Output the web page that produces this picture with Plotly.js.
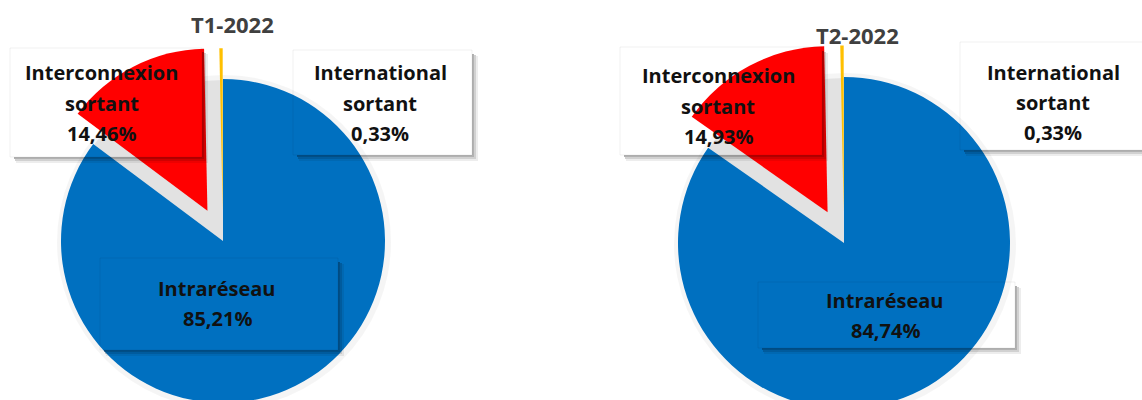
<!DOCTYPE html>
<html>
<head>
<meta charset="utf-8">
<script src="https://cdn.plot.ly/plotly-3.0.1.min.js"></script>
<style>
  html, body { margin: 0; padding: 0; overflow: hidden; background: #fff; }
  #chart { width: 1142px; height: 460px; }
</style>
</head>
<body>
<div id="chart"></div>
<script>
// ---- data ----
const categories = ['Intraréseau', 'Interconnexion sortant', 'International sortant'];
const labelLines = [['Intraréseau'], ['Interconnexion', 'sortant'], ['International', 'sortant']];
const periods = ['T1-2022', 'T2-2022'];
const t1Values = [85.21, 14.46, 0.33];
const t2Values = [84.74, 14.93, 0.33];
const seriesValues = [t1Values, t2Values];
const sliceColors = ['#0070C0', '#FF0000', '#FFC000'];
const pulls = [0, 0.21, 0.19];

// ---- layout constants (pixels) ----
const W = 1142, H = 460;
const pieGeom = [{cx: 223, cy: 241, r: 162}, {cx: 844, cy: 243, r: 166}];
const titlePos = [{x: 232, y: 24}, {x: 857, y: 35}];
// label centre x and first-line y per pie, per category
const labelPos = [
  [{x: 217, y: 288}, {x: 102, y: 73}, {x: 380, y: 73}],
  [{x: 885, y: 300}, {x: 718, y: 76}, {x: 1053, y: 72}]
];
const boxes = [
  [{x0: 100, y0: 258, x1: 338, y1: 350}, {x0: 10, y0: 48, x1: 202, y1: 157}, {x0: 293, y0: 50, x1: 472, y1: 155}],
  [{x0: 758, y0: 282, x1: 1015, y1: 348}, {x0: 620, y0: 47, x1: 822, y1: 155}, {x0: 960, y0: 42, x1: 1160, y1: 150}]
];
const lineGap = 30;

const px = x => x / W;
const py = y => 1 - y / H;
const maxPull = Math.max(...pulls);

const traces = seriesValues.map((vals, i) => {
  const g = pieGeom[i];
  const half = g.r * (1 + maxPull);
  return {
    type: 'pie',
    values: vals,
    labels: categories,
    sort: false,
    direction: 'clockwise',
    rotation: 0,
    pull: pulls,
    marker: {colors: sliceColors, line: {width: 0}},
    textinfo: 'none',
    hoverinfo: 'label+percent',
    showlegend: false,
    domain: {
      x: [px(g.cx - half), px(g.cx + half)],
      y: [py(g.cy + half), py(g.cy - half)]
    }
  };
});

const shapes = [];
// light grey disk behind each pie (shadow seen through the gaps)
pieGeom.forEach(g => {
  shapes.push({type: 'circle', xref: 'paper', yref: 'paper', layer: 'below',
    x0: px(g.cx - g.r - 4), x1: px(g.cx + g.r + 6), y0: py(g.cy + g.r + 6), y1: py(g.cy - g.r - 4),
    fillcolor: 'rgba(0,0,0,0.04)', line: {width: 0}});
  shapes.push({type: 'circle', xref: 'paper', yref: 'paper', layer: 'below',
    x0: px(g.cx - g.r + 1), x1: px(g.cx + g.r - 1), y0: py(g.cy + g.r - 1), y1: py(g.cy - g.r + 1),
    fillcolor: '#e2e2e2', line: {width: 0}});
});
function rect(x0, y0, x1, y1, fill) {
  shapes.push({type: 'rect', xref: 'paper', yref: 'paper', layer: 'above',
    x0: px(x0), x1: px(x1), y0: py(y1), y1: py(y0), fillcolor: fill, line: {width: 0}});
}
boxes.forEach(row => row.forEach(b => {
  // faint outline
  shapes.push({type: 'rect', xref: 'paper', yref: 'paper', layer: 'above',
    x0: px(b.x0), x1: px(b.x1), y0: py(b.y1), y1: py(b.y0),
    fillcolor: 'rgba(0,0,0,0)', line: {width: 1, color: 'rgba(0,0,0,0.06)'}});
  // drop shadow (bottom and right)
  rect(b.x0 + 4, b.y1, b.x1 + 2, b.y1 + 2, 'rgba(0,0,0,0.30)');
  rect(b.x0 + 5, b.y1 + 2, b.x1 + 4, b.y1 + 4, 'rgba(0,0,0,0.18)');
  rect(b.x0 + 6, b.y1 + 4, b.x1 + 6, b.y1 + 6, 'rgba(0,0,0,0.07)');
  rect(b.x1, b.y0 + 4, b.x1 + 2, b.y1, 'rgba(0,0,0,0.30)');
  rect(b.x1 + 2, b.y0 + 5, b.x1 + 4, b.y1 + 2, 'rgba(0,0,0,0.18)');
  rect(b.x1 + 4, b.y0 + 6, b.x1 + 6, b.y1 + 4, 'rgba(0,0,0,0.07)');
}));

const fontFamily = '"Open Sans", "Noto Sans", sans-serif';
const annotations = [];
periods.forEach((p, i) => {
  annotations.push({xref: 'paper', yref: 'paper', x: px(titlePos[i].x), y: py(titlePos[i].y),
    text: p, showarrow: false, xanchor: 'center', yanchor: 'middle',
    font: {family: fontFamily, size: 22, color: '#404040', weight: 700}});
  seriesValues[i].forEach((v, k) => {
    const lines = labelLines[k].concat([v.toFixed(2).replace('.', ',') + '%']);
    lines.forEach((ln, j) => {
      annotations.push({xref: 'paper', yref: 'paper', x: px(labelPos[i][k].x), y: py(labelPos[i][k].y + j * lineGap),
        text: ln, showarrow: false, xanchor: 'center', yanchor: 'middle',
        font: {family: fontFamily, size: 20, color: '#111111', weight: 700}});
    });
  });
});

const layout = {
  width: W, height: H,
  margin: {l: 0, r: 0, t: 0, b: 0},
  paper_bgcolor: '#ffffff',
  shapes: shapes,
  annotations: annotations
};

Plotly.newPlot('chart', traces, layout, {displayModeBar: false, staticPlot: true});
</script>
</body>
</html>
